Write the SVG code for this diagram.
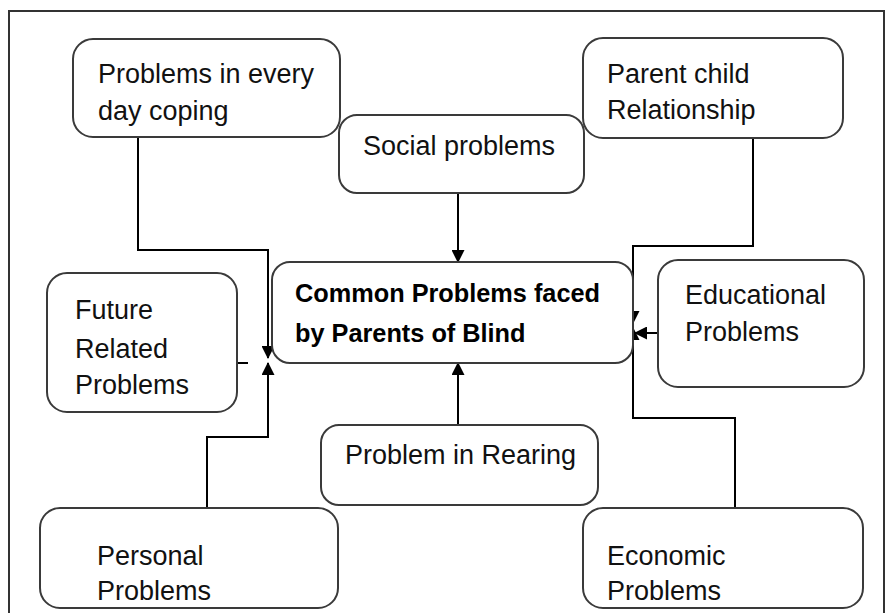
<svg xmlns="http://www.w3.org/2000/svg" width="886" height="613" viewBox="0 0 886 613">
<defs>
<style>
.box{fill:#fff;stroke:#3a3a3a;stroke-width:2}
.t{font-family:"Liberation Sans",Arial,sans-serif;font-size:27px;fill:#111}
.tb{font-family:"Liberation Sans",Arial,sans-serif;font-size:25.3px;font-weight:bold;fill:#000}
.c{fill:none;stroke:#000;stroke-width:2}
</style>
<marker id="ah" markerWidth="13" markerHeight="13" refX="12" refY="6.5" orient="auto" markerUnits="userSpaceOnUse" viewBox="0 0 13 13">
<path d="M0,0 L13,6.5 L0,13 Z" fill="#000"/>
</marker>
</defs>
<rect x="9" y="11" width="875" height="610" fill="#fff" stroke="#333" stroke-width="2"/>
<g id="connectors">
<polyline class="c" points="138,137 138,250 268,250 268,358" marker-end="url(#ah)"/>
<polyline class="c" points="207,508 207,437 268,437 268,363" marker-end="url(#ah)"/>
<line class="c" x1="458" y1="193" x2="458" y2="262" marker-end="url(#ah)"/>
<line class="c" x1="458" y1="425" x2="458" y2="363" marker-end="url(#ah)"/>
<polyline class="c" points="753,138 753,246 633,246 633,323" marker-end="url(#ah)"/>
<polyline class="c" points="735,508 735,418 633,418 633,328" marker-end="url(#ah)"/>
<line class="c" x1="658" y1="333" x2="635" y2="333" marker-end="url(#ah)"/>
<line class="c" x1="237" y1="363" x2="248" y2="363"/>
</g>
<g id="coping">
<rect class="box" x="73" y="39" width="267" height="98" rx="20"/>
<text class="t" x="98" y="83">Problems in every</text>
<text class="t" x="98" y="120">day coping</text>
</g>
<g id="parent">
<rect class="box" x="583" y="38" width="260" height="100" rx="20"/>
<text class="t" x="607" y="83">Parent child</text>
<text class="t" x="607" y="119">Relationship</text>
</g>
<g id="social">
<rect class="box" x="339" y="115" width="245" height="78" rx="18"/>
<text class="t" x="363" y="155">Social problems</text>
</g>
<g id="central">
<rect class="box" x="272" y="262" width="361" height="101" rx="18"/>
<text class="tb" x="295" y="302">Common Problems faced</text>
<text class="tb" x="295" y="342">by Parents of Blind</text>
</g>
<g id="future">
<rect class="box" x="47" y="273" width="190" height="139" rx="20"/>
<text class="t" x="75" y="319">Future</text>
<text class="t" x="75" y="358">Related</text>
<text class="t" x="75" y="394">Problems</text>
</g>
<g id="educational">
<rect class="box" x="658" y="260" width="206" height="127" rx="20"/>
<text class="t" x="685" y="304">Educational</text>
<text class="t" x="685" y="341">Problems</text>
</g>
<g id="rearing">
<rect class="box" x="321" y="425" width="277" height="80" rx="18"/>
<text class="t" x="345" y="464">Problem in Rearing</text>
</g>
<g id="personal">
<rect class="box" x="40" y="508" width="298" height="100" rx="20"/>
<text class="t" x="97" y="565">Personal</text>
<text class="t" x="97" y="600">Problems</text>
</g>
<g id="economic">
<rect class="box" x="583" y="508" width="280" height="100" rx="20"/>
<text class="t" x="607" y="565">Economic</text>
<text class="t" x="607" y="600">Problems</text>
</g>
</svg>
